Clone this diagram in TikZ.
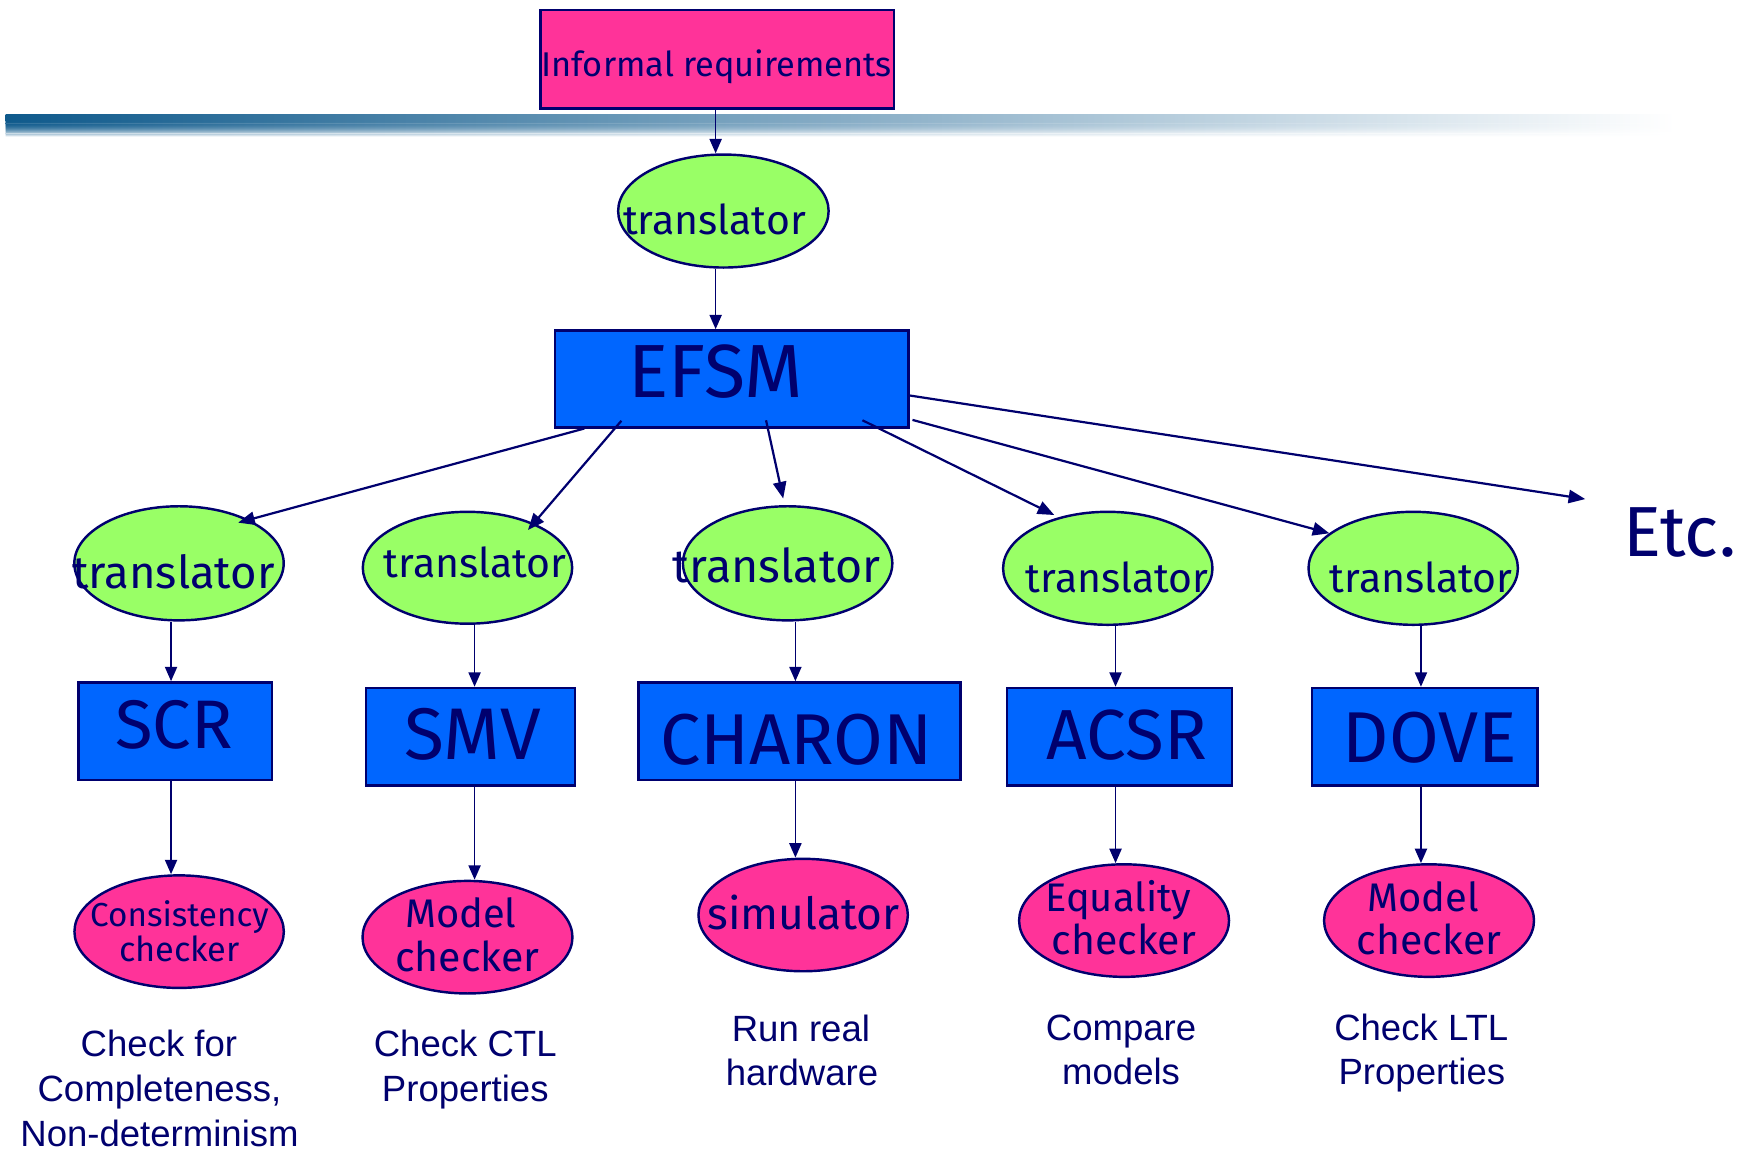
\documentclass[tikz,border=0pt]{standalone}
\usepackage{fontspec}
\usetikzlibrary{arrows.meta,calc,shapes.geometric}
\newfontfamily\handfont{Fira Sans}
\newfontfamily\notefont{Liberation Sans}
\newcommand\handsz[1]{\handfont\fontsize{#1}{#1}\selectfont}
\newcommand\notesz{\notefont\fontsize{33}{40}\selectfont}
\definecolor{ink}{RGB}{0,0,110}
\definecolor{pinkfill}{RGB}{255,51,153}
\definecolor{greenfill}{RGB}{153,255,102}
\definecolor{bluefill}{RGB}{0,102,255}
\definecolor{barblue}{RGB}{15,90,140}
\definecolor{barmid}{RGB}{185,198,212}
\tikzset{
  shapeline/.style={draw=ink, line width=2.2pt, inner sep=0pt},
  boxnode/.style={shapeline, rectangle},
  ovalnode/.style={shapeline, ellipse},
  lbl/.style={text=ink, inner sep=0pt, anchor=base},
  note/.style={lbl, font=\notesz},
  flow/.style={draw=ink, line width=1.5pt, -{Triangle[length=13pt,width=11pt]}},
  fan/.style={draw=ink, line width=2pt, -{Triangle[length=15pt,width=12pt]}},
}
\begin{document}
\begin{tikzpicture}[x=1pt,y=-1pt]
\useasboundingbox (0,0) rectangle (1568,1039);

% title banner: solid upper band, lower band fading out
\shade[left color=barblue, middle color=barmid, right color=white] (5,103) rectangle (1512,110);
\foreach \k in {0,...,12}{
  \pgfmathsetmacro\op{1-(\k+1)/14}
  \shade[left color=barblue, middle color=barmid, right color=white, fill opacity=\op]
    (5,110+\k) rectangle (1512,111+\k);
}

% top of the chain
\node[boxnode, fill=pinkfill, minimum width=319pt, minimum height=89pt] (req) at (647.5,53.5) {};
\node[lbl, font=\handsz{31}] (reqtxt) at (647,69) {Informal requirements};

\node[ovalnode, fill=greenfill, minimum width=190pt, minimum height=102pt] (tr0) at (653,190.5) {};
\node[lbl, font=\handsz{37}] (tr0txt) at (645,212) {translator};

\node[boxnode, fill=bluefill, minimum width=319pt, minimum height=87.5pt] (efsm) at (660.5,342) {};
\node[lbl, font=\handsz{68}] (efsmtxt) at (646,359) {EFSM};

% translators
\node[ovalnode, fill=greenfill, minimum width=189pt, minimum height=103pt] (t1) at (161.6,508.5) {};
\node[ovalnode, fill=greenfill, minimum width=189pt, minimum height=101pt] (t2) at (422,512.5) {};
\node[ovalnode, fill=greenfill, minimum width=189pt, minimum height=103pt] (t3) at (711,508.5) {};
\node[ovalnode, fill=greenfill, minimum width=189pt, minimum height=102pt] (t4) at (1000,513) {};
\node[ovalnode, fill=greenfill, minimum width=189pt, minimum height=102pt] (t5) at (1275.7,513) {};
\node[lbl, font=\handsz{41}] (t1txt) at (156.5,531) {translator};
\node[lbl, font=\handsz{37}] (t2txt) at (429,521) {translator};
\node[lbl, font=\handsz{42}] (t3txt) at (701,526) {translator};
\node[lbl, font=\handsz{37}] (t4txt) at (1008.5,535) {translator};
\node[lbl, font=\handsz{37}] (t5txt) at (1283,535) {translator};

% target languages
\node[boxnode, fill=bluefill, minimum width=174.5pt, minimum height=88pt] (scr) at (158.2,660) {};
\node[boxnode, fill=bluefill, minimum width=188.5pt, minimum height=88pt] (smv) at (424.8,665) {};
\node[boxnode, fill=bluefill, minimum width=290.5pt, minimum height=88pt] (charon) at (721.8,660) {};
\node[boxnode, fill=bluefill, minimum width=203pt, minimum height=88pt] (acsr) at (1010.6,665) {};
\node[boxnode, fill=bluefill, minimum width=203.4pt, minimum height=88pt] (dove) at (1286,665) {};
\node[lbl, font=\handsz{62}] (scrtxt) at (157,676) {SCR};
\node[lbl, font=\handsz{66}] (smvtxt) at (426.5,686) {SMV};
\node[lbl, font=\handsz{65}] (charontxt) at (719,690) {CHARON};
\node[lbl, font=\handsz{64}] (acsrtxt) at (1017,686) {ACSR};
\node[lbl, font=\handsz{65}] (dovetxt) at (1291,688) {DOVE};

% tools
\node[ovalnode, fill=pinkfill, minimum width=189pt, minimum height=101.6pt] (c1) at (161.7,841) {};
\node[ovalnode, fill=pinkfill, minimum width=189.5pt, minimum height=101.6pt] (c2) at (422,846) {};
\node[ovalnode, fill=pinkfill, minimum width=189pt, minimum height=101.5pt] (c3) at (725,826) {};
\node[ovalnode, fill=pinkfill, minimum width=189.5pt, minimum height=101.6pt] (c4) at (1014.7,831) {};
\node[ovalnode, fill=pinkfill, minimum width=189.5pt, minimum height=101.6pt] (c5) at (1290,831) {};
\node[lbl, font=\handsz{30}] (c1a) at (162,836) {Consistency};
\node[lbl, font=\handsz{31}] (c1b) at (162,868) {checker};
\node[lbl, font=\handsz{36}] (c2a) at (416,837) {Model};
\node[lbl, font=\handsz{37}] (c2b) at (422,877) {checker};
\node[lbl, font=\handsz{40}] (c3a) at (725.5,839) {simulator};
\node[lbl, font=\handsz{36}] (c4a) at (1009.5,823) {Equality};
\node[lbl, font=\handsz{37}] (c4b) at (1014.5,862) {checker};
\node[lbl, font=\handsz{36}] (c5a) at (1284.5,823) {Model};
\node[lbl, font=\handsz{37}] (c5b) at (1290,862) {checker};

% purposes
\node[note] (d1a) at (143.5,954) {Check for};
\node[note] (d1b) at (144,994) {Completeness,};
\node[note] (d1c) at (144,1035) {Non-determinism};
\node[note] (d2a) at (420,954) {Check CTL};
\node[note] (d2b) at (420,994) {Properties};
\node[note] (d3a) at (723,940) {Run real};
\node[note] (d3b) at (724,980) {hardware};
\node[note] (d4a) at (1012,939) {Compare};
\node[note] (d4b) at (1012,979) {models};
\node[note] (d5a) at (1283,939) {Check LTL};
\node[note] (d5b) at (1283.5,979) {Properties};

\node[lbl, anchor=base west, font=\handsz{64}] (etc) at (1465,502) {Etc.};

% column lines
\coordinate (k0) at (646,0);
\coordinate (k1) at (154.4,0);
\coordinate (k2) at (428.4,0);
\coordinate (k3) at (718,0);
\coordinate (k4) at (1007,0);
\coordinate (k5) at (1282.7,0);

\draw[flow] (req.south -| k0) -- (tr0.north -| k0);
\draw[flow] (tr0.south -| k0) -- (efsm.north -| k0);

\draw[flow] (t1.south -| k1) -- (scr.north -| k1);
\draw[flow] (t2.south -| k2) -- (smv.north -| k2);
\draw[flow] (t3.south -| k3) -- (charon.north -| k3);
\draw[flow] (t4.south -| k4) -- (acsr.north -| k4);
\draw[flow] (t5.south -| k5) -- (dove.north -| k5);

\draw[flow] (scr.south -| k1) -- (c1.north -| k1);
\draw[flow] (smv.south -| k2) -- (c2.north -| k2);
\draw[flow] (charon.south -| k3) -- (c3.north -| k3);
\draw[flow] (acsr.south -| k4) -- (c4.north -| k4);
\draw[flow] (dove.south -| k5) -- (c5.north -| k5);

% fan out of the EFSM
\coordinate (etcin) at ($(etc.base west)+(-34,-51.5)$);
\draw[fan] ($(efsm.south west)+(27.5,0)$) -- ($(t1.center)+(53.4,-36.7)$);
\draw[fan] ($(efsm.south west)+(61,-7)$) -- ($(t2.center)+(54.6,-34.1)$);
\draw[fan] ($(efsm.south west)+(191.6,-7.5)$) -- ($(t3.center)+(-4,-58.5)$);
\draw[fan] ($(efsm.south west)+(278.6,-7.5)$) -- ($(t4.center)+(-48.3,-48.1)$);
\draw[fan] ($(efsm.south east)+(2.6,-7.8)$) -- ($(t5.center)+(-75.7,-31.6)$);
\draw[fan] ($(efsm.east)+(0,15)$) -- (etcin);
\end{tikzpicture}
\end{document}
